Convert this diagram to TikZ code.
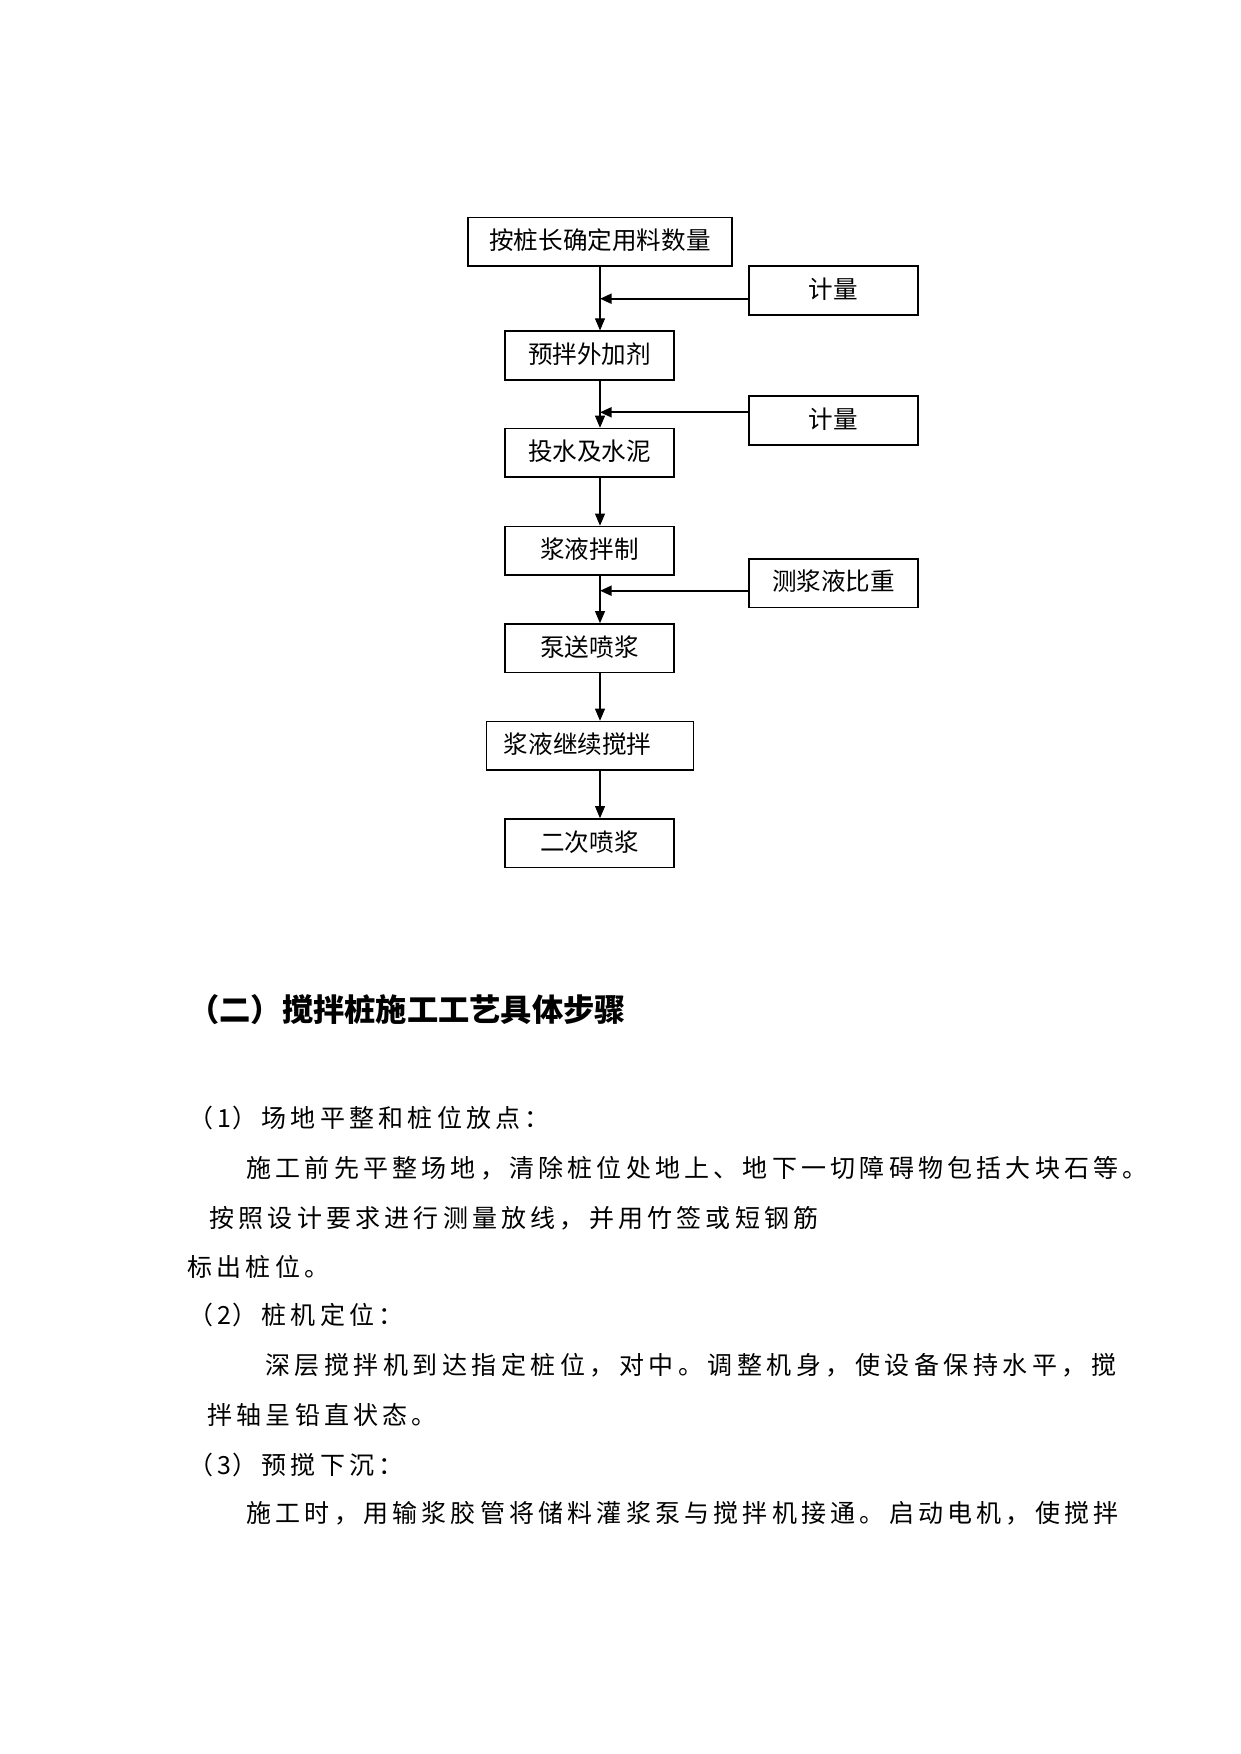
\documentclass[tikz,border=0pt]{standalone}
\usepackage{fontspec}
\setmainfont{Noto Sans CJK SC}
\usetikzlibrary{arrows.meta}
\newdimen\chextra
\def\spacedA#1{\ifx\relax#1\else#1\hskip\chextra\relax\expandafter\spacedA\fi}
\newcommand\spl[2]{\chextra=#1\relax\spacedA#2\relax}
\begin{document}
\begin{tikzpicture}[x=0.48pt,y=-0.48pt,
  box/.style={draw, line width=0.75pt, minimum height=23.3pt, inner sep=0pt,
    text height=0.88em, text depth=0.12em, font=\fontsize{11.8pt}{14pt}\selectfont},
  wbox/.style={box, minimum width=81.1pt},
  spine/.style={line width=0.5pt, -{Triangle[length=5.8pt,width=4.8pt]}},
  feed/.style={line width=1pt, -{Triangle[length=5.6pt,width=4.8pt]}},
  body/.style={anchor=base west, inner sep=0pt, font=\fontsize{12pt}{14pt}\selectfont},
  head/.style={anchor=base west, inner sep=0pt, font=\fontsize{15pt}{18pt}\selectfont\bfseries}]
\fill[white] (0,0) rectangle (1241,1754);
\useasboundingbox (0,0) rectangle (1241,1754);

% flow chart boxes
\node[box, minimum width=126.7pt] (b1) at (600,241.8) {按桩长确定用料数量};
\node[wbox] (m1) at (833.5,290.5) {计量};
\node[wbox] (b2) at (589.5,355.5) {预拌外加剂};
\node[wbox] (m2) at (833.5,420.5) {计量};
\node[wbox] (b3) at (589.5,452.8) {投水及水泥};
\node[wbox] (b4) at (589.5,550.7) {浆液拌制};
\node[wbox] (m3) at (833.5,583) {测浆液比重};
\node[wbox] (b5) at (589.5,648.2) {泵送喷浆};
\node[box, minimum width=99.2pt] (b6) at (590,745.8) {\hbox to 82.6pt{浆液继续搅拌\hfil}};
\node[wbox] (b7) at (589.5,843.2) {二次喷浆};

% main spine
\draw[spine] (b1.south) -- (b1.south |- b2.north);
\draw[spine] (b1.south |- b2.south) -- (b1.south |- b3.north);
\draw[spine] (b1.south |- b3.south) -- (b1.south |- b4.north);
\draw[spine] (b1.south |- b4.south) -- (b1.south |- b5.north);
\draw[spine] (b1.south |- b5.south) -- (b1.south |- b6.north);
\draw[spine] (b1.south |- b6.south) -- (b1.south |- b7.north);

% side feeds
\coordinate (f1) at ([yshift=-3.94pt]m1.west);
\draw[feed] (f1) -- (f1 -| b1.south);
\coordinate (f2) at ([yshift=3.94pt]m2.west);
\draw[feed] (f2) -- (f2 -| b1.south);
\coordinate (f3) at ([yshift=-3.7pt]m3.west);
\draw[feed] (f3) -- (f3 -| b1.south);

% text below
\node[head] (h) at (188,1021.9) {（二）搅拌桩施工工艺具体步骤};
\node[body] (t1) at (188,1127.8) {\spl{2.02pt}{（{1\kern-1.5pt}）场地平整和桩位放点：}};
\node[body] (t2) at (246,1177.8) {\spl{2.02pt}{施工前先平整场地，清除桩位处地上、地下一切障碍物包括大块石等。}};
\node[body] (t3) at (209,1227.8) {\spl{2.02pt}{按照设计要求进行测量放线，并用竹签或短钢筋}};
\node[body] (t4) at (187,1276.2) {\spl{2.02pt}{标出桩位。}};
\node[body] (t5) at (188,1324.5) {\spl{2.02pt}{（{2\kern-1.5pt}）桩机定位：}};
\node[body] (t6) at (265,1374.5) {\spl{2.16pt}{深层搅拌机到达指定桩位，对中。调整机身，使设备保持水平，搅}};
\node[body] (t7) at (207,1424.5) {\spl{2.02pt}{拌轴呈铅直状态。}};
\node[body] (t8) at (188,1474.5) {\spl{2.02pt}{（{3\kern-1.5pt}）预搅下沉：}};
\node[body] (t9) at (246,1522.8) {\spl{2.02pt}{施工时，用输浆胶管将储料灌浆泵与搅拌机接通。启动电机，使搅拌}};
\end{tikzpicture}
\end{document}
